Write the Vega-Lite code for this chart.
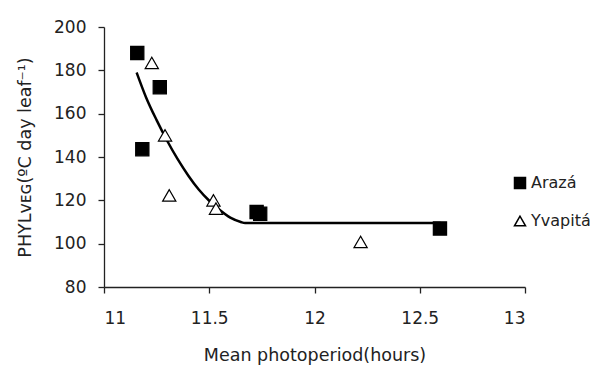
{
  "$schema": "https://vega.github.io/schema/vega-lite/v6.json",
  "width": 421,
  "height": 260,
  "autosize": "none",
  "padding": {"left": 104, "top": 27, "right": 71, "bottom": 86},
  "background": "white",
  "config": {
    "view": {"stroke": null},
    "font": "DejaVu Sans",
    "axis": {
      "grid": false,
      "domainColor": "#222",
      "tickColor": "#222",
      "labelColor": "#222",
      "titleColor": "#222",
      "labelFont": "DejaVu Sans",
      "titleFont": "DejaVu Sans",
      "labelFontSize": 17,
      "titleFontSize": 17.5,
      "titleFontWeight": "normal",
      "tickSize": 6,
      "domainWidth": 1.3,
      "tickWidth": 1.3
    }
  },
  "datasets": {
    "points": [
      {"photoperiod": 11.158, "phyl": 188.0, "series": "Arazá"},
      {"photoperiod": 11.265, "phyl": 172.2, "series": "Arazá"},
      {"photoperiod": 11.182, "phyl": 143.6, "series": "Arazá"},
      {"photoperiod": 11.725, "phyl": 114.6, "series": "Arazá"},
      {"photoperiod": 11.742, "phyl": 113.8, "series": "Arazá"},
      {"photoperiod": 12.596, "phyl": 107.0, "series": "Arazá"},
      {"photoperiod": 11.227, "phyl": 183.4, "series": "Yvapitá"},
      {"photoperiod": 11.29, "phyl": 150.0, "series": "Yvapitá"},
      {"photoperiod": 11.31, "phyl": 122.3, "series": "Yvapitá"},
      {"photoperiod": 11.52, "phyl": 120.0, "series": "Yvapitá"},
      {"photoperiod": 11.532, "phyl": 116.2, "series": "Yvapitá"},
      {"photoperiod": 12.219, "phyl": 100.8, "series": "Yvapitá"}
    ],
    "curve": [
      {"photoperiod": 11.155, "phyl": 179.0},
      {"photoperiod": 11.2, "phyl": 167.5},
      {"photoperiod": 11.25, "phyl": 157.0},
      {"photoperiod": 11.3, "phyl": 147.5},
      {"photoperiod": 11.35, "phyl": 139.0},
      {"photoperiod": 11.4, "phyl": 131.5},
      {"photoperiod": 11.45, "phyl": 125.0},
      {"photoperiod": 11.5, "phyl": 119.8},
      {"photoperiod": 11.55, "phyl": 115.5},
      {"photoperiod": 11.6, "phyl": 112.0},
      {"photoperiod": 11.65, "phyl": 110.0},
      {"photoperiod": 11.67, "phyl": 109.5},
      {"photoperiod": 12.6, "phyl": 109.5}
    ]
  },
  "encoding": {
    "x": {
      "field": "photoperiod",
      "type": "quantitative",
      "scale": {"domain": [11, 13], "nice": false, "zero": false},
      "axis": {
        "values": [11, 11.5, 12, 12.5, 13],
        "format": "~g",
        "title": "Mean photoperiod(hours)",
        "labelPadding": 17,
        "titlePadding": 20
      }
    },
    "y": {
      "field": "phyl",
      "type": "quantitative",
      "scale": {"domain": [80, 200], "nice": false, "zero": false},
      "axis": {
        "values": [80, 100, 120, 140, 160, 180, 200],
        "title": "PHYLᴠᴇɢ(ºC day leaf⁻¹)",
        "labelPadding": 12,
        "titlePadding": 19
      }
    }
  },
  "layer": [
    {
      "data": {"name": "curve"},
      "mark": {"type": "line", "color": "black", "strokeWidth": 2.5, "interpolate": "monotone"}
    },
    {
      "data": {"name": "points"},
      "mark": {"type": "point", "filled": true, "stroke": "black", "strokeWidth": 1.2, "opacity": 1, "size": 175},
      "encoding": {
        "shape": {
          "field": "series",
          "type": "nominal",
          "scale": {"domain": ["Arazá", "Yvapitá"], "range": ["square", "triangle-up"]},
          "legend": {
            "title": null,
            "orient": "none",
            "legendX": 408,
            "legendY": 148,
            "padding": 0,
            "labelFontSize": 16,
            "labelColor": "#222",
            "labelFont": "DejaVu Sans",
            "symbolSize": 121,
            "rowPadding": 21,
            "labelOffset": 3,
            "encode": {"symbols": {"update": {"stroke": {"value": "black"}, "strokeWidth": {"value": 1.2}}}}
          }
        },
        "fill": {
          "field": "series",
          "type": "nominal",
          "scale": {"domain": ["Arazá", "Yvapitá"], "range": ["black", "white"]},
          "legend": {
            "title": null,
            "orient": "none",
            "legendX": 408,
            "legendY": 148,
            "padding": 0,
            "labelFontSize": 16,
            "labelColor": "#222",
            "labelFont": "DejaVu Sans",
            "symbolSize": 121,
            "rowPadding": 21,
            "labelOffset": 3,
            "encode": {"symbols": {"update": {"stroke": {"value": "black"}, "strokeWidth": {"value": 1.2}}}}
          }
        }
      }
    }
  ]
}
